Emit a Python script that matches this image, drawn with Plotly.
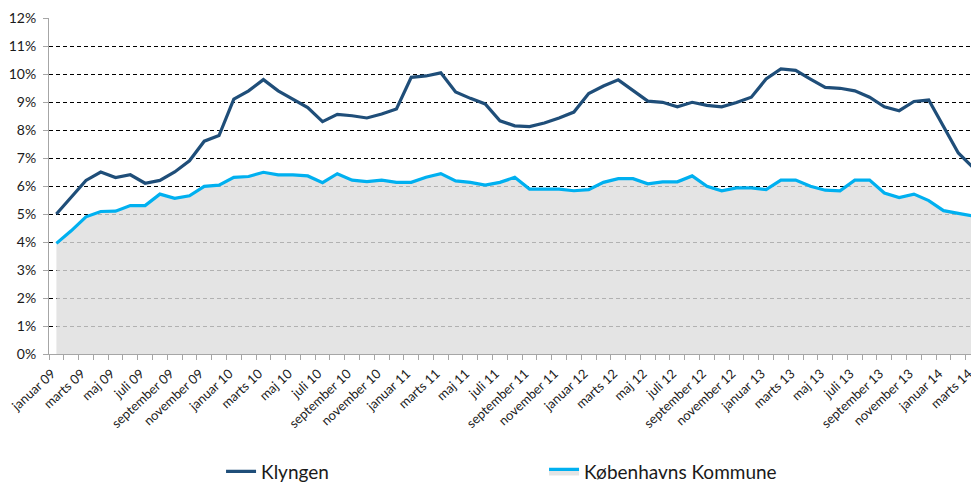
import plotly.graph_objects as go

NAVY = "#1F4E79"
CYAN = "#00B0F0"
AXIS = "#A6A6A6"
TEXT = "#1A1A1A"

# Monthly series, januar 09 .. marts 14
MONTH_NAMES = ["januar", "februar", "marts", "april", "maj", "juni", "juli",
               "august", "september", "oktober", "november", "december"]
months = [f"{MONTH_NAMES[m]} {y:02d}" for y in range(9, 15) for m in range(12)][:63]

klyngen = [
    5.0, 5.6, 6.2, 6.5, 6.3, 6.4, 6.1, 6.2, 6.5, 6.9, 7.6, 7.8,
    9.1, 9.4, 9.8, 9.4, 9.1, 8.8, 8.3, 8.56, 8.51, 8.43, 8.57, 8.75,
    9.88, 9.93, 10.04, 9.36, 9.13, 8.93, 8.33, 8.15, 8.12, 8.25, 8.43, 8.64,
    9.3, 9.57, 9.79, 9.4, 9.03, 8.99, 8.83, 8.99, 8.88, 8.83, 8.98, 9.17,
    9.82, 10.18, 10.13, 9.82, 9.52, 9.49, 9.4, 9.17, 8.83, 8.69, 9.02, 9.07,
    8.12, 7.18, 6.66,
]
kobenhavn = [
    3.95, 4.4, 4.9, 5.09, 5.1, 5.3, 5.3, 5.71, 5.56, 5.65, 5.99, 6.03,
    6.31, 6.34, 6.49, 6.4, 6.4, 6.36, 6.12, 6.44, 6.21, 6.16, 6.21, 6.13,
    6.13, 6.31, 6.44, 6.18, 6.13, 6.03, 6.13, 6.31, 5.89, 5.89, 5.89, 5.83,
    5.87, 6.13, 6.26, 6.26, 6.08, 6.15, 6.15, 6.36, 5.99, 5.83, 5.93, 5.93,
    5.87, 6.21, 6.21, 5.99, 5.85, 5.83, 6.21, 6.21, 5.75, 5.59, 5.71, 5.48,
    5.12, 5.02, 4.93,
]

x = list(range(len(months)))
# rotated labels are drawn slightly right of their tick; nudge them back
label_pos = [i - 0.3 for i in x[::2]]

fig = go.Figure()
fig.add_trace(go.Scatter(
    x=x, y=kobenhavn, name="Københavns Kommune", mode="lines",
    line=dict(color=CYAN, width=3.2),
    fill="tozeroy", fillcolor="rgba(221,221,221,0.8)",
))
fig.add_trace(go.Scatter(
    x=x, y=klyngen, name="Klyngen", mode="lines",
    line=dict(color=NAVY, width=3.2),
))

# page body adds an 8px offset, so the figure is sized 971x474
fig.update_layout(
    width=971, height=474,
    paper_bgcolor="white", plot_bgcolor="white",
    font=dict(family="Lato, sans-serif", color=TEXT),
    margin=dict(l=41, r=0, t=10, b=128),
    showlegend=True,
    legend=dict(
        orientation="h", traceorder="reversed",
        xref="paper", x=0.185, xanchor="left",
        yref="container", y=0.022, yanchor="middle",
        entrywidth=278, entrywidthmode="pixels",
        font=dict(size=19, color=TEXT),
    ),
)
fig.update_xaxes(
    range=[-0.5, 62.4], automargin=False,
    tickmode="array", tickvals=label_pos, ticktext=months[::2],
    tickangle=-43, tickfont=dict(size=13, color=TEXT),
    ticklabelstandoff=6, ticklabeloverflow="allow",
    ticks="", showgrid=False, zeroline=False,
    showline=True, linecolor=AXIS, linewidth=1,
    minor=dict(tick0=-0.5, dtick=1, ticks="outside", ticklen=5, tickcolor=AXIS),
)
fig.update_yaxes(
    range=[0, 12], dtick=1, ticksuffix="%", automargin=False,
    tickfont=dict(size=14, color=TEXT), ticklabelstandoff=4,
    ticks="outside", ticklen=5, tickcolor=AXIS,
    showline=True, linecolor=AXIS, linewidth=1,
    showgrid=True, gridcolor="black", gridwidth=1, griddash="4px,3px",
    zeroline=False,
)

fig.write_html("out.html")
